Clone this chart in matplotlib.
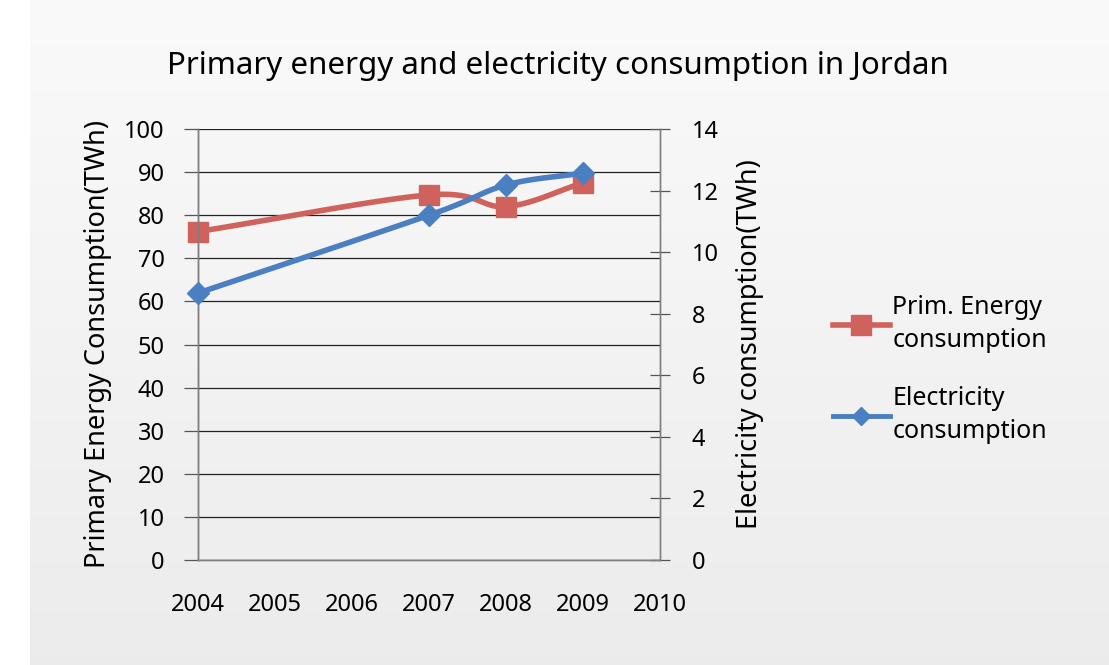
import numpy as np
import matplotlib.pyplot as plt
from matplotlib.lines import Line2D

plt.rcParams['font.family'] = ['Noto Sans', 'DejaVu Sans']

years = [2004, 2007, 2008, 2009]
primary_energy = [76.2, 84.7, 82.0, 87.5]   # TWh, left axis
electricity = [8.67, 11.2, 12.18, 12.57]    # TWh, right axis
year_ticks = [2004, 2005, 2006, 2007, 2008, 2009, 2010]

red = '#CF625C'
blue = '#4A7FC1'


def smooth(x, y, n=40, tension=0.5):
    # Catmull-Rom style curve through the points, like a spreadsheet "smoothed line"
    x = np.asarray(x, float)
    y = np.asarray(y, float)
    px = np.concatenate([[2 * x[0] - x[1]], x, [2 * x[-1] - x[-2]]])
    py = np.concatenate([[2 * y[0] - y[1]], y, [2 * y[-1] - y[-2]]])
    xs, ys = [], []
    t = np.linspace(0, 1, n)
    h00 = 2 * t**3 - 3 * t**2 + 1
    h10 = t**3 - 2 * t**2 + t
    h01 = -2 * t**3 + 3 * t**2
    h11 = t**3 - t**2
    for i in range(1, len(px) - 2):
        p0, p1, p2, p3 = [np.array([px[j], py[j]]) for j in range(i - 1, i + 3)]
        m1 = tension * (p2 - p0)
        m2 = tension * (p3 - p1)
        pts = (np.outer(h00, p1) + np.outer(h10, m1) + np.outer(h01, p2) + np.outer(h11, m2))
        xs.append(pts[:, 0])
        ys.append(pts[:, 1])
    return np.concatenate(xs), np.concatenate(ys)


fig = plt.figure(figsize=(11.09, 6.65), dpi=100)
fig.patch.set_facecolor('white')

# light gray gradient panel behind the chart
bg = fig.add_axes([30 / 1109, 0, 1 - 30 / 1109, 1], zorder=-5)
grad = np.linspace(0.98, 0.925, 256).reshape(-1, 1)
bg.imshow(np.dstack([grad, grad, grad]), aspect='auto', extent=[0, 1, 0, 1])
bg.axis('off')

ax = fig.add_axes([198 / 1109, 105 / 665, 462 / 1109, 431 / 665])
ax.patch.set_alpha(0)
ax2 = ax.twinx()

ax.set_xlim(2004, 2010)
ax.set_ylim(0, 100)
ax2.set_ylim(0, 14)

ax.set_yticks(np.arange(0, 101, 10))
ax2.set_yticks(np.arange(0, 15, 2))
ax.set_xticks(year_ticks)
ax.set_xticklabels([str(y) for y in year_ticks])

ax.grid(axis='y', color='#222222', linewidth=0.9)
ax.set_axisbelow(True)

for a in (ax, ax2):
    for s in a.spines.values():
        s.set_color('#7f7f7f')
        s.set_linewidth(1.0)
ax.spines['top'].set_visible(False)
ax2.spines['top'].set_visible(False)
ax.spines['left'].set_color('#555555')

ax.tick_params(axis='y', direction='out', length=10, width=0.9, color='#555555',
               labelsize=17, pad=14)
ax.tick_params(axis='x', length=0, labelsize=17, pad=24)
ax2.tick_params(axis='y', direction='inout', length=14, width=0.9, color='#555555',
                labelsize=17, pad=16)

ax.set_ylabel('Primary Energy Consumption(TWh)', fontsize=19.5, labelpad=9)
ax2.set_ylabel('Electricity consumption(TWh)', fontsize=19.5, labelpad=12)

# primary energy on the left scale
sx, sy = smooth(years, primary_energy)
ax.plot(sx, sy, color=red, linewidth=4, solid_capstyle='round', zorder=3)
ax.plot(years, primary_energy, linestyle='none', marker='s', markersize=15,
        color=red, zorder=4, clip_on=False)

# electricity on the right scale
ex, ey = smooth(years, electricity)
ax2.plot(ex, ey, color=blue, linewidth=4, solid_capstyle='round', zorder=3)
ax2.plot(years, electricity, linestyle='none', marker='D', markersize=11,
         color=blue, zorder=4, clip_on=False)

fig.text(558 / 1109, 1 - 66 / 665, 'Primary energy and electricity consumption in Jordan',
         ha='center', va='center', fontsize=22.5)

handles = [
    Line2D([], [], color=red, linewidth=4, marker='s', markersize=15),
    Line2D([], [], color=blue, linewidth=3.5, marker='D', markersize=9),
]
leg = fig.legend(handles, ['Prim. Energy\nconsumption', 'Electricity\nconsumption'],
                 loc='upper left', bbox_to_anchor=(810 / 1109, 1 - 272 / 665),
                 frameon=False, fontsize=18, handlelength=2.3, handletextpad=0.1,
                 labelspacing=1.3)
for t in leg.get_texts():
    t.set_linespacing(1.45)

fig.savefig('out.png', dpi=100)
